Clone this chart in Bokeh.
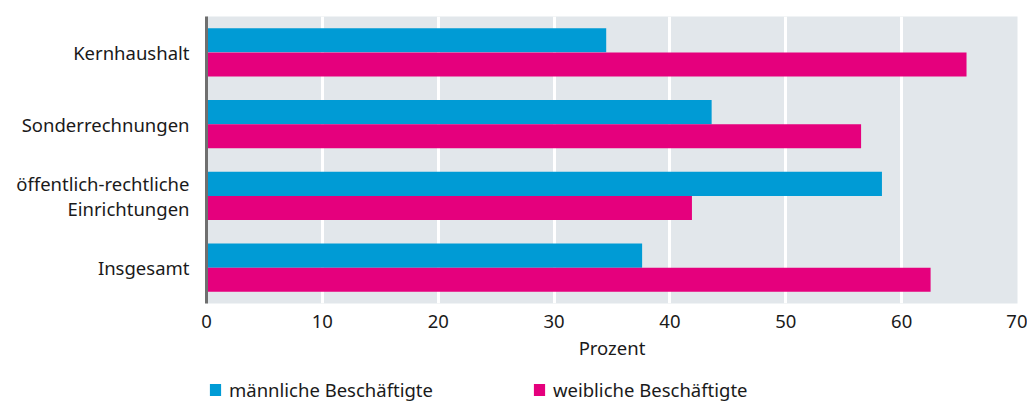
from bokeh.plotting import figure
from bokeh.layouts import column
from bokeh.models import FactorRange, Legend, LegendItem, ColumnDataSource, FixedTicker, Range1d
from bokeh.transform import dodge
from bokeh.embed import file_html
from bokeh.resources import INLINE

categories = ["Kernhaushalt", "Sonderrechnungen", "öffentlich-rechtliche\nEinrichtungen", "Insgesamt"]
maennlich = [34.5, 43.6, 58.3, 37.6]
weiblich = [65.6, 56.5, 41.9, 62.5]
x_ticks = [0, 10, 20, 30, 40, 50, 60, 70]
series_labels = ["männliche Beschäftigte", "weibliche Beschäftigte"]

FONT = "Noto Sans"
FS = "18.5px"
BLUE = "#009bd5"
MAGENTA = "#e5007d"
TXT = "#1a1a1a"

src = ColumnDataSource(dict(cat=categories, m=maennlich, w=weiblich))

p = figure(
    y_range=FactorRange(factors=list(reversed(categories)), range_padding=0),
    x_range=Range1d(0, 70),
    frame_width=811, frame_height=287,
    min_border_left=206, min_border_top=16, min_border_right=10, min_border_bottom=60,
    output_backend="svg", toolbar_location=None,
    background_fill_color="#e2e7eb", border_fill_color="white",
)
p.outline_line_color = None

bar_h = 0.335
r1 = p.hbar(y=dodge("cat", bar_h / 2, range=p.y_range), left=0, right="m", height=bar_h,
            source=src, fill_color=BLUE, line_color=None)
r2 = p.hbar(y=dodge("cat", -bar_h / 2, range=p.y_range), left=0, right="w", height=bar_h,
            source=src, fill_color=MAGENTA, line_color=None)

p.ygrid.grid_line_color = None
p.xgrid.grid_line_color = "white"
p.xgrid.grid_line_width = 3
p.xaxis.ticker = FixedTicker(ticks=x_ticks)

p.xaxis.axis_line_color = None
p.xaxis.major_tick_line_color = None
p.xaxis.minor_tick_line_color = None
p.xaxis.major_tick_out = 0
p.xaxis.major_tick_in = 0
p.xaxis.major_label_standoff = 11
p.xaxis.major_label_text_font = FONT
p.xaxis.major_label_text_font_size = FS
p.xaxis.major_label_text_color = TXT
p.xaxis.axis_label = "Prozent"
p.xaxis.axis_label_text_font = FONT
p.xaxis.axis_label_text_font_size = FS
p.xaxis.axis_label_text_font_style = "normal"
p.xaxis.axis_label_text_color = TXT
p.xaxis.axis_label_standoff = 4

p.yaxis.axis_line_color = "#6f6f6f"
p.yaxis.axis_line_width = 3
p.yaxis.major_tick_line_color = None
p.yaxis.minor_tick_line_color = None
p.yaxis.major_tick_out = 0
p.yaxis.major_tick_in = 0
p.yaxis.major_label_standoff = 17
p.yaxis.major_label_text_font = FONT
p.yaxis.major_label_text_font_size = FS
p.yaxis.major_label_text_color = TXT
p.yaxis.major_label_text_line_height = 1.0

# legend strip below the chart
p2 = figure(
    y_range=FactorRange(factors=list(reversed(categories)), range_padding=0),
    x_range=Range1d(0, 70),
    width=1027, height=39, min_border=0,
    x_axis_type=None, y_axis_type=None,
    output_backend="svg", toolbar_location=None,
    background_fill_color="white", border_fill_color="white",
)
p2.outline_line_color = None
p2.grid.visible = False
l1 = p2.hbar(y="cat", left=0, right="m", height=bar_h, source=src,
             fill_color=BLUE, line_color=None, visible=False)
l2 = p2.hbar(y="cat", left=0, right="w", height=bar_h, source=src,
             fill_color=MAGENTA, line_color=None, visible=False)

legend = Legend(items=[LegendItem(label=series_labels[0], renderers=[l1]),
                       LegendItem(label=series_labels[1], renderers=[l2])],
                orientation="horizontal", location=(2, 0),
                border_line_color=None, background_fill_alpha=0,
                inactive_fill_alpha=0,
                label_text_font=FONT, label_text_font_size=FS, label_text_color=TXT,
                glyph_width=14, glyph_height=15, label_standoff=7, spacing=99,
                padding=0, margin=0)
p2.add_layout(legend)

layout = column(p, p2, spacing=0)
open("out.html", "w").write(file_html(layout, INLINE))
